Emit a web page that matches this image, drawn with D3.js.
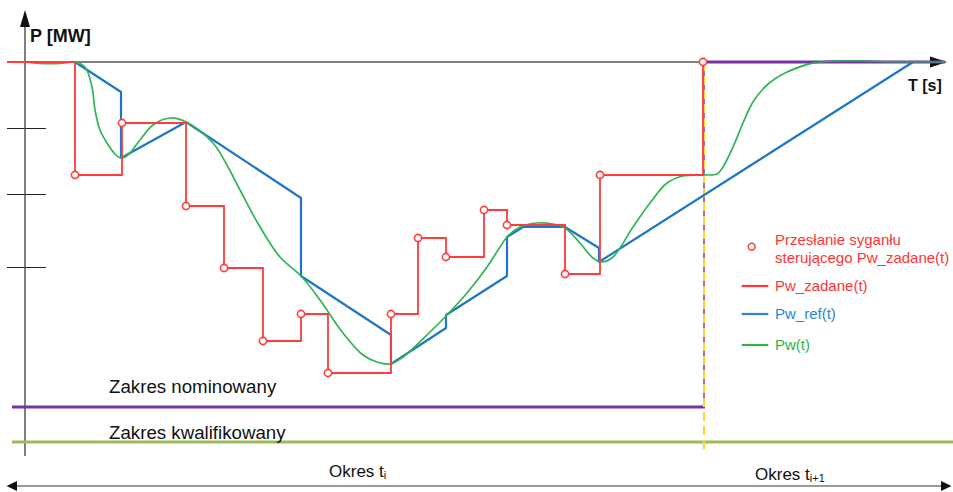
<!DOCTYPE html>
<html>
<head>
<meta charset="utf-8">
<script src="https://cdn.jsdelivr.net/npm/d3@7"></script>
<style>
  html, body { margin: 0; padding: 0; background: #fff; }
  svg { display: block; font-family: "Liberation Sans", Arial, sans-serif; }
</style>
</head>
<body>
<svg id="chart" width="953" height="492"></svg>
<script>
// Time (s) and power (MW) samples of the regulation example.

// Pw_zadane(t): setpoint steps, [time, level]; each entry after the first starts a new step
const zadaneSteps = [
  [-18, 380], [50, 267], [97, 319], [161, 236], [199, 174], [238, 101],
  [276, 128], [303, 69], [366, 128], [393, 204], [421, 185], [459, 232],
  [482, 217], [540, 168], [575, 267], [678, 380]
];
const zadaneEnd = 900;

// Pw_ref(t): ramp-limited reference
const refPoints = [
  [0, 380], [50, 380], [96, 350], [96, 284], [161, 320], [276, 244],
  [276, 166], [366, 107], [366, 78], [421, 114], [421, 127], [482, 166],
  [482, 205], [498, 215], [540, 215], [574, 194], [574, 180], [888, 380],
  [920, 380]
];

// Pw(t): measured unit power
const pwPoints = [
  [0, 380], [15, 378.5], [35, 378.5], [50, 380], [60, 375], [67, 355],
  [70, 332], [75, 312], [82, 299], [90, 288], [96, 284], [103, 287],
  [115, 302], [128, 317], [145, 324], [161, 320], [188, 299], [203, 275],
  [215, 252], [235, 215], [255, 185], [277, 165], [295, 142], [318, 109],
  [338, 87], [352, 80], [365, 78], [378, 85], [405, 110], [422, 127],
  [442, 149], [462, 175], [475, 195], [482, 205], [495, 215], [512, 219],
  [528, 218], [540, 214], [555, 199], [568, 184], [577, 180], [588, 185],
  [608, 215], [625, 239], [642, 259], [658, 266], [678, 267], [692, 268],
  [698, 275], [708, 295], [718, 319], [728, 340], [742, 357], [762, 370],
  [788, 379], [815, 381], [842, 381], [868, 380], [905, 380], [920, 380]
];

// Power ranges and period boundary
const nominalRange = { level: 35, from: -13, to: 680 };
const qualifiedRange = { level: 0, from: -13, to: 928 };
const periodBoundary = 679;
const yTicks = [175, 248, 314];

const legendItems = [
  { label: "Pw_zadane(t)", color: "#ff3434" },
  { label: "Pw_ref(t)", color: "#2a86d3" },
  { label: "Pw(t)", color: "#2db34a" }
];

const COLORS = {
  red: "#ff3b3b", blue: "#1f76c6", green: "#2fb554",
  purple: "#7433a6", olive: "#9bbb59", yellow: "#ffd23f", axis: "#555"
};

const svg = d3.select("#chart");
const x = d3.scaleLinear().domain([0, 920]).range([25, 945]);
const y = d3.scaleLinear().domain([0, 380]).range([442, 62]);

// ---- axes ----
const gy = svg.append("g").attr("transform", `translate(${x(0)},0)`)
  .call(d3.axisLeft(y).tickValues(yTicks).tickFormat("").tickSize(18).tickSizeOuter(0));
gy.select(".domain").remove();
gy.selectAll(".tick line").attr("x1", -18).attr("x2", 21)
  .attr("stroke", "#222").attr("stroke-width", 1.2);

svg.append("line").attr("x1", x(0)).attr("x2", x(0)).attr("y1", 14).attr("y2", 456)
  .attr("stroke", COLORS.axis).attr("stroke-width", 1.5);
svg.append("path").attr("d", "M25,10 L20,27 L30,27 Z").attr("fill", "#111");

svg.append("line").attr("x1", x(0)).attr("x2", 935).attr("y1", y(380)).attr("y2", y(380))
  .attr("stroke", COLORS.axis).attr("stroke-width", 1.5);
svg.append("path").attr("d", `M947,${y(380)} L930,${y(380) - 5.5} L930,${y(380) + 5.5} Z`).attr("fill", "#111");

svg.append("text").attr("x", 30).attr("y", 42).attr("font-size", 18).attr("font-weight", "bold")
  .attr("fill", "#111").text("P [MW]");
svg.append("text").attr("x", 908).attr("y", 91).attr("font-size", 16).attr("font-weight", "bold")
  .attr("fill", "#111").text("T [s]");

// ---- range lines ----
svg.append("line").attr("x1", x(qualifiedRange.from)).attr("x2", 953)
  .attr("y1", y(qualifiedRange.level)).attr("y2", y(qualifiedRange.level))
  .attr("stroke", COLORS.olive).attr("stroke-width", 3);
svg.append("line").attr("x1", x(nominalRange.from)).attr("x2", x(nominalRange.to))
  .attr("y1", y(nominalRange.level)).attr("y2", y(nominalRange.level))
  .attr("stroke", COLORS.purple).attr("stroke-width", 3);

svg.append("text").attr("x", 109).attr("y", 393).attr("font-size", 18.7).attr("fill", "#111")
  .text("Zakres nominowany");
svg.append("text").attr("x", 109).attr("y", 438.5).attr("font-size", 18.7).attr("fill", "#111")
  .text("Zakres kwalifikowany");

// ---- period boundary (dashed) ----
svg.append("line").attr("x1", x(periodBoundary)).attr("x2", x(periodBoundary))
  .attr("y1", y(380)).attr("y2", 450)
  .attr("stroke", COLORS.yellow).attr("stroke-width", 2).attr("stroke-dasharray", "9,5");
svg.append("line").attr("x1", x(periodBoundary)).attr("x2", x(periodBoundary))
  .attr("y1", y(380) + 9).attr("y2", y(nominalRange.level))
  .attr("stroke", "#9a6cc8").attr("stroke-width", 2).attr("stroke-dasharray", "5,9");

// ---- series ----
const stepPts = [];
zadaneSteps.forEach((d, i) => {
  if (i > 0) stepPts.push([d[0], zadaneSteps[i - 1][1]]);
  stepPts.push(d);
});
stepPts.push([zadaneEnd, zadaneSteps[zadaneSteps.length - 1][1]]);

const line = d3.line().x(d => x(d[0])).y(d => y(d[1]));

svg.append("path").datum(refPoints).attr("d", line)
  .attr("fill", "none").attr("stroke", COLORS.blue).attr("stroke-width", 2.2)
  .attr("stroke-linejoin", "round");

svg.append("path").datum(pwPoints)
  .attr("d", d3.line().x(d => x(d[0])).y(d => y(d[1])).curve(d3.curveCatmullRom.alpha(0.5)))
  .attr("fill", "none").attr("stroke", COLORS.green).attr("stroke-width", 1.7);

svg.append("path").datum(stepPts).attr("d", line)
  .attr("fill", "none").attr("stroke", COLORS.red).attr("stroke-width", 1.8);

// purple nominal level continues along the axis in the next period
svg.append("line").attr("x1", x(periodBoundary)).attr("x2", x(920))
  .attr("y1", y(380)).attr("y2", y(380))
  .attr("stroke", COLORS.purple).attr("stroke-width", 3);
svg.append("path").datum(pwPoints.filter(d => d[0] >= 760))
  .attr("d", d3.line().x(d => x(d[0])).y(d => y(d[1])).curve(d3.curveCatmullRom.alpha(0.5)))
  .attr("fill", "none").attr("stroke", COLORS.green).attr("stroke-width", 1.5).attr("opacity", 0.8);

svg.selectAll("circle.send").data(zadaneSteps.slice(1)).join("circle")
  .attr("class", "send")
  .attr("cx", d => x(d[0])).attr("cy", d => y(d[1])).attr("r", 3.6)
  .attr("fill", "#fff").attr("stroke", COLORS.red).attr("stroke-width", 1.6);

// ---- legend ----
const lg = svg.append("g");
lg.append("circle").attr("cx", 751.7).attr("cy", 246.7).attr("r", 3.4)
  .attr("fill", "#fff").attr("stroke", COLORS.red).attr("stroke-width", 1.5);
lg.append("text").attr("x", 775).attr("y", 244.5).attr("font-size", 15).attr("fill", "#ff3434")
  .text("Przesłanie syganłu");
lg.append("text").attr("x", 775).attr("y", 262.5).attr("font-size", 15).attr("fill", "#ff3434")
  .text("sterującego Pw_zadane(t)");
const legY = [286, 314, 345];
legendItems.forEach((d, i) => {
  lg.append("line").attr("x1", 741.7).attr("x2", 768.3).attr("y1", legY[i]).attr("y2", legY[i])
    .attr("stroke", d.color).attr("stroke-width", 2.2);
  lg.append("text").attr("x", 775).attr("y", legY[i] + 5.2).attr("font-size", 15)
    .attr("fill", d.color).text(d.label);
});

// ---- periods ----
svg.append("line").attr("x1", 12).attr("x2", 946).attr("y1", 486).attr("y2", 486)
  .attr("stroke", "#777").attr("stroke-width", 1.5);
svg.append("path").attr("d", "M6.5,486 L17,481 L17,491 Z").attr("fill", "#111");
svg.append("path").attr("d", "M951.5,486 L941,481 L941,491 Z").attr("fill", "#111");

const p1 = svg.append("text").attr("x", 329).attr("y", 477).attr("font-size", 17).attr("fill", "#111");
p1.append("tspan").text("Okres t");
p1.append("tspan").attr("font-size", 11).attr("dy", 2).text("i");
const p2 = svg.append("text").attr("x", 755).attr("y", 480).attr("font-size", 17).attr("fill", "#111");
p2.append("tspan").text("Okres t");
p2.append("tspan").attr("font-size", 11).attr("dy", 2).text("i+1");
</script>
</body>
</html>
